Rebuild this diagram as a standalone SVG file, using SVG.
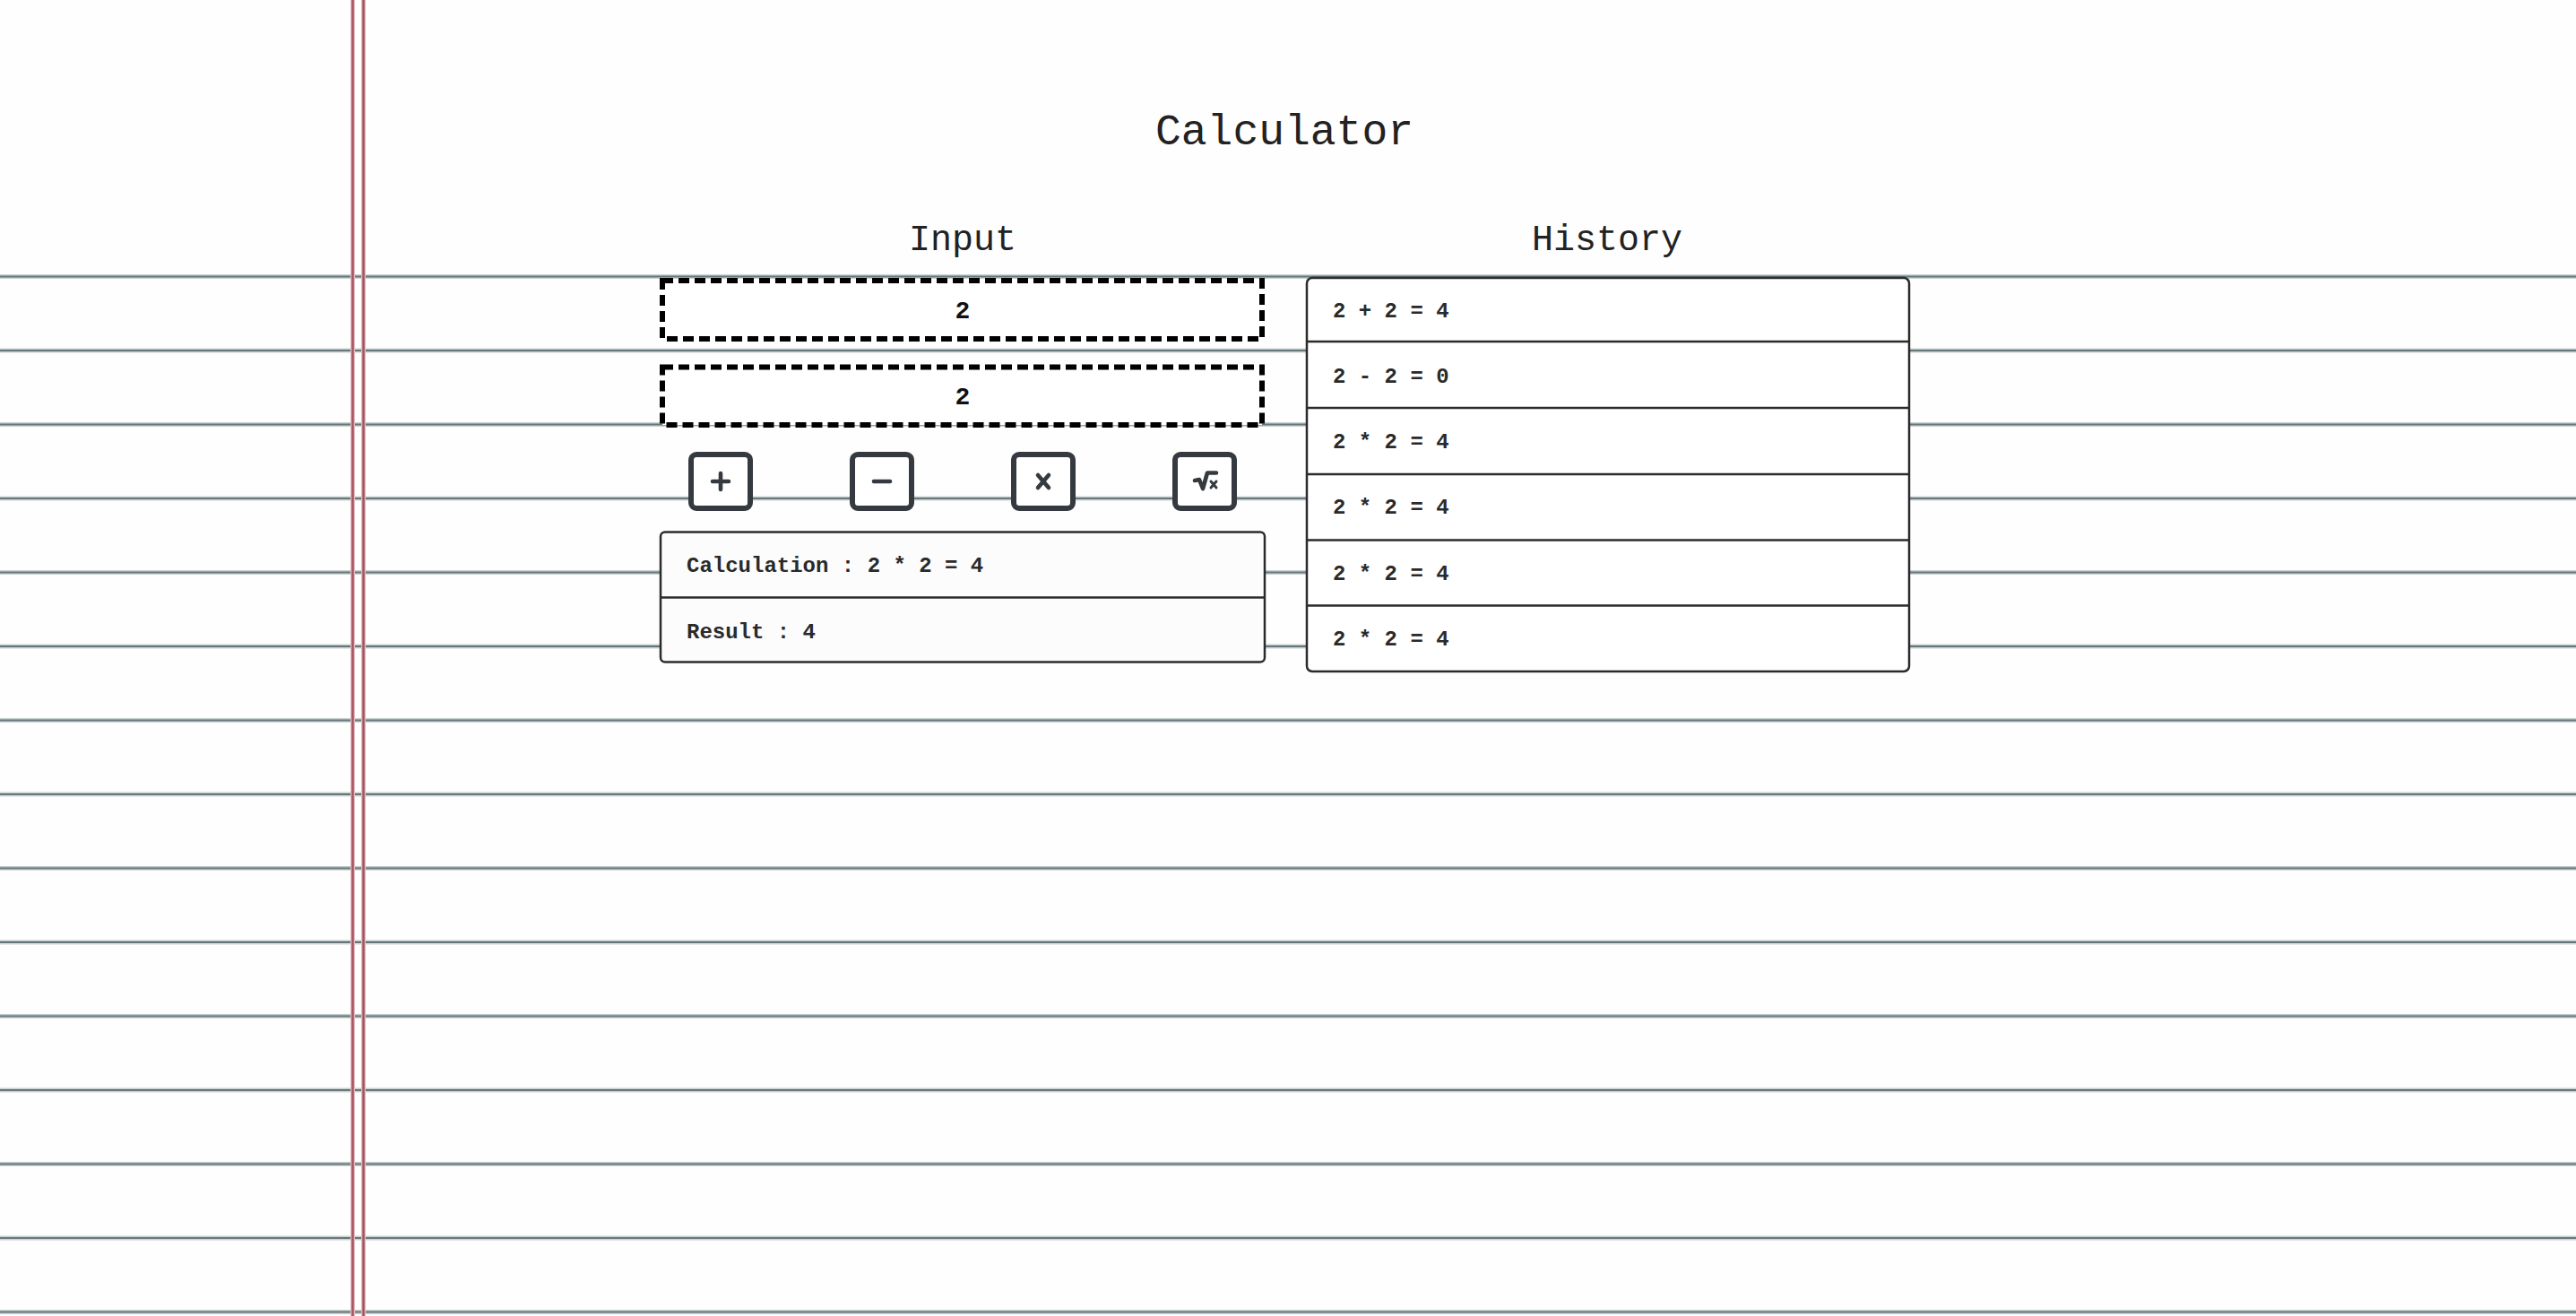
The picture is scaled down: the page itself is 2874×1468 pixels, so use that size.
<svg xmlns="http://www.w3.org/2000/svg" width="2874" height="1468" viewBox="0 0 2874 1468">
<style>
.rule{stroke:#c9d0d0;stroke-width:5}
.rulec{stroke:#66777a;stroke-width:2.2}
.margin{stroke:#e3b9be;stroke-width:5}
.marginc{stroke:#a4525e;stroke-width:2.4}
.mono{font-family:"Liberation Mono","Courier New",monospace;fill:#222}
.h1{font-size:48px}
.h2{font-size:40px}
.num{font-size:28px;font-weight:bold;fill:#111}
.item{font-size:24px;font-weight:bold;fill:#2a2a2a}
.dash{fill:#fff;stroke:#000;stroke-width:6;stroke-dasharray:12 6}
.panel{fill:#fff;stroke:#2b2b2b;stroke-width:2.5}
.div{stroke:#2b2b2b;stroke-width:2.5}
.btn{fill:#fff;stroke:#343a40;stroke-width:6}
.ico{stroke:#343a40;stroke-width:4.6;fill:none;stroke-linecap:round;stroke-linejoin:round}
</style>
<rect width="2874" height="1468" fill="#fefefe"/>
<g id="ruled-lines">
<g class="rule">
<line x1="0" y1="308.5" x2="2874" y2="308.5"/><line x1="0" y1="391" x2="2874" y2="391"/><line x1="0" y1="473.5" x2="2874" y2="473.5"/><line x1="0" y1="556" x2="2874" y2="556"/><line x1="0" y1="638.5" x2="2874" y2="638.5"/><line x1="0" y1="721" x2="2874" y2="721"/><line x1="0" y1="803.5" x2="2874" y2="803.5"/><line x1="0" y1="886" x2="2874" y2="886"/><line x1="0" y1="968.5" x2="2874" y2="968.5"/><line x1="0" y1="1051" x2="2874" y2="1051"/><line x1="0" y1="1133.5" x2="2874" y2="1133.5"/><line x1="0" y1="1216" x2="2874" y2="1216"/><line x1="0" y1="1298.5" x2="2874" y2="1298.5"/><line x1="0" y1="1381" x2="2874" y2="1381"/><line x1="0" y1="1463.5" x2="2874" y2="1463.5"/>
</g>
<g class="rulec">
<line x1="0" y1="308.5" x2="2874" y2="308.5"/><line x1="0" y1="391" x2="2874" y2="391"/><line x1="0" y1="473.5" x2="2874" y2="473.5"/><line x1="0" y1="556" x2="2874" y2="556"/><line x1="0" y1="638.5" x2="2874" y2="638.5"/><line x1="0" y1="721" x2="2874" y2="721"/><line x1="0" y1="803.5" x2="2874" y2="803.5"/><line x1="0" y1="886" x2="2874" y2="886"/><line x1="0" y1="968.5" x2="2874" y2="968.5"/><line x1="0" y1="1051" x2="2874" y2="1051"/><line x1="0" y1="1133.5" x2="2874" y2="1133.5"/><line x1="0" y1="1216" x2="2874" y2="1216"/><line x1="0" y1="1298.5" x2="2874" y2="1298.5"/><line x1="0" y1="1381" x2="2874" y2="1381"/><line x1="0" y1="1463.5" x2="2874" y2="1463.5"/>
</g>
</g>
<g id="margin">
<line class="margin" x1="393.5" y1="0" x2="393.5" y2="1468"/>
<line class="margin" x1="405.5" y1="0" x2="405.5" y2="1468"/>
<line class="marginc" x1="393.5" y1="0" x2="393.5" y2="1468"/>
<line class="marginc" x1="405.5" y1="0" x2="405.5" y2="1468"/>
</g>
<g id="title"><text class="mono h1" x="1433" y="161" text-anchor="middle">Calculator</text></g>
<g id="input-label"><text class="mono h2" x="1074" y="279" text-anchor="middle">Input</text></g>
<g id="history-label"><text class="mono h2" x="1793" y="279" text-anchor="middle">History</text></g>
<g id="input-1">
<rect class="dash" x="739" y="313" width="669" height="65"/>
<text class="mono num" x="1074" y="355" text-anchor="middle">2</text>
</g>
<g id="input-2">
<rect class="dash" x="739" y="409.5" width="669" height="64.5"/>
<text class="mono num" x="1074" y="451" text-anchor="middle">2</text>
</g>
<g id="btn-plus">
<rect class="btn" x="771" y="507" width="66" height="60" rx="6"/>
<path class="ico" d="M795,537 H813 M804,528 V546"/>
</g>
<g id="btn-minus">
<rect class="btn" x="951" y="507" width="66" height="60" rx="6"/>
<path class="ico" d="M975,537 H993"/>
</g>
<g id="btn-times">
<rect class="btn" x="1131" y="507" width="66" height="60" rx="6"/>
<path class="ico" d="M1158,530 L1170,544 M1170,530 L1158,544"/>
</g>
<g id="btn-sqrt">
<rect class="btn" x="1311" y="507" width="66" height="60" rx="6"/>
<path class="ico" d="M1333,536 L1338,535 L1342,545 L1347,527.5 L1357,527.5"/>
<path class="ico" style="stroke-width:3" d="M1351,537 L1357,544 M1357,537 L1351,544"/>
</g>
<g id="result-panel">
<rect class="panel" x="737" y="593.5" width="674" height="145" rx="5" style="fill:#fcfcfc"/>
<line class="div" x1="737" y1="666.5" x2="1411" y2="666.5"/>
<text class="mono item" x="766" y="638">Calculation : 2 * 2 = 4</text>
<text class="mono item" x="766" y="712">Result : 4</text>
</g>
<g id="history-panel">
<rect class="panel" x="1458" y="310" width="672" height="439" rx="6"/>
<line class="div" x1="1458" y1="381" x2="2130" y2="381"/>
<line class="div" x1="1458" y1="455" x2="2130" y2="455"/>
<line class="div" x1="1458" y1="529" x2="2130" y2="529"/>
<line class="div" x1="1458" y1="602.5" x2="2130" y2="602.5"/>
<line class="div" x1="1458" y1="675.5" x2="2130" y2="675.5"/>
<text class="mono item" x="1487" y="354">2 + 2 = 4</text>
<text class="mono item" x="1487" y="427">2 - 2 = 0</text>
<text class="mono item" x="1487" y="500">2 * 2 = 4</text>
<text class="mono item" x="1487" y="573">2 * 2 = 4</text>
<text class="mono item" x="1487" y="647">2 * 2 = 4</text>
<text class="mono item" x="1487" y="720">2 * 2 = 4</text>
</g>
</svg>
